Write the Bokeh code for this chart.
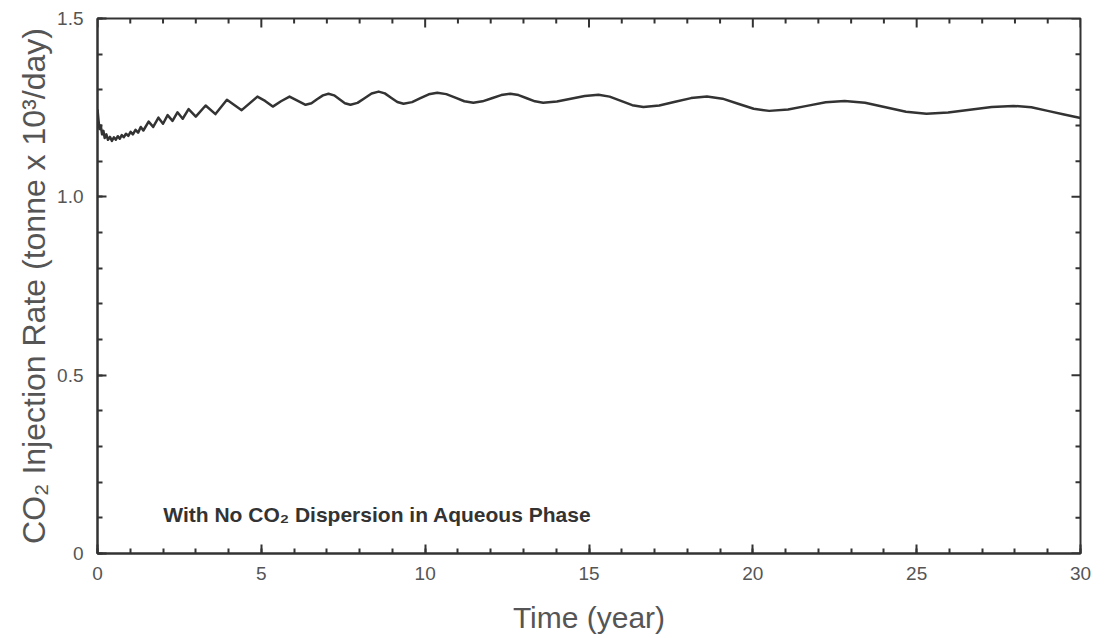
import math
from bokeh.plotting import figure
from bokeh.models import Range1d, LinearAxis, SingleIntervalTicker, CustomJSTickFormatter, Label
from bokeh.embed import file_html
from bokeh.resources import INLINE

# Time (year)
time_year = [0.00, 0.03, 0.06, 0.10, 0.14, 0.18, 0.22, 0.27, 0.32, 0.38, 0.44, 0.50, 0.56, 0.62, 0.68,
             0.74, 0.80, 0.87, 0.94, 1.01, 1.08, 1.16, 1.24, 1.32, 1.40, 1.56, 1.70, 1.86, 2.00, 2.14,
             2.29, 2.44, 2.60, 2.78, 3.00, 3.30, 3.60, 3.95, 4.40, 4.88, 5.115, 5.35, 5.60, 5.86, 6.10,
             6.35, 6.53, 6.70, 6.88, 7.05, 7.22, 7.385, 7.55, 7.72, 7.935, 8.15, 8.365, 8.58, 8.77,
             8.96, 9.15, 9.34, 9.60, 9.855, 10.11, 10.37, 10.645, 10.92, 11.195, 11.47, 11.75, 12.035,
             12.32, 12.60, 12.85, 13.10, 13.35, 13.60, 14.02, 14.445, 14.87, 15.29, 15.63, 15.975,
             16.32, 16.66, 17.145, 17.63, 18.115, 18.60, 19.075, 19.55, 20.025, 20.50, 21.075, 21.65,
             22.225, 22.80, 23.425, 24.05, 24.675, 25.30, 25.96, 26.625, 27.29, 27.95, 28.50, 29.00,
             29.50, 30.00]

# CO2 injection rate (tonne x 10^3/day)
injection_rate = [1.245, 1.215, 1.190, 1.200, 1.175, 1.185, 1.165, 1.175, 1.160, 1.168, 1.157, 1.167,
                  1.160, 1.170, 1.163, 1.173, 1.167, 1.177, 1.171, 1.182, 1.175, 1.188, 1.180, 1.196,
                  1.186, 1.211, 1.196, 1.222, 1.205, 1.229, 1.213, 1.237, 1.219, 1.246, 1.225, 1.256,
                  1.232, 1.272, 1.243, 1.281, 1.269, 1.253, 1.268, 1.281, 1.2695, 1.258, 1.2625, 1.2735,
                  1.2845, 1.289, 1.2845, 1.2735, 1.2625, 1.258, 1.2634, 1.2765, 1.2896, 1.295, 1.290,
                  1.278, 1.266, 1.261, 1.2655, 1.2765, 1.2875, 1.292, 1.288, 1.278, 1.268, 1.264, 1.2677,
                  1.2765, 1.2853, 1.289, 1.2853, 1.2765, 1.2677, 1.264, 1.2672, 1.275, 1.2828, 1.286,
                  1.281, 1.269, 1.257, 1.252, 1.2562, 1.2665, 1.2768, 1.281, 1.2752, 1.261, 1.2468,
                  1.241, 1.2451, 1.255, 1.2649, 1.269, 1.2637, 1.251, 1.2383, 1.233, 1.2362, 1.244,
                  1.2518, 1.255, 1.251, 1.241, 1.231, 1.221]

# tick positions for the unlabelled top and right frame ticks
x_major_ticks = [0, 5, 10, 15, 20, 25, 30]
x_minor_ticks = [v for v in range(0, 31) if v % 5 != 0]
y_major_ticks = [0.0, 0.5, 1.0, 1.5]
y_minor_ticks = [0.1, 0.2, 0.3, 0.4, 0.6, 0.7, 0.8, 0.9, 1.1, 1.2, 1.3, 1.4]

x_label = "Time (year)"
y_label = "CO\u2082 Injection Rate (tonne x 10\u00b3/day)"
note = "With No CO\u2082 Dispersion in Aqueous Phase"

X_MAX = 30
Y_MAX = 1.5

FONT = "Liberation Sans"
INK = "#333333"
TXT = "#555555"

p = figure(width=1110, height=638, output_backend="svg", toolbar_location=None,
           x_range=Range1d(0, X_MAX), y_range=Range1d(0, Y_MAX),
           x_axis_location=None, y_axis_location=None,
           min_border_left=97, min_border_right=30, min_border_top=18, min_border_bottom=85)
p.grid.visible = False
p.background_fill_color = "white"
p.border_fill_color = "white"
p.outline_line_color = INK
p.outline_line_width = 2

yfmt = CustomJSTickFormatter(code="return tick == 0 ? '0' : tick.toFixed(1);")


def style(ax):
    ax.axis_line_color = INK
    ax.axis_line_width = 2
    ax.major_tick_line_color = INK
    ax.minor_tick_line_color = INK
    ax.major_tick_line_width = 2
    ax.minor_tick_line_width = 2
    ax.major_tick_in = 9
    ax.major_tick_out = 0
    ax.minor_tick_in = 5
    ax.minor_tick_out = 0
    ax.major_label_text_font = FONT
    ax.major_label_text_color = TXT
    ax.axis_label_text_font = FONT
    ax.axis_label_text_color = TXT
    ax.axis_label_text_font_style = "normal"


xb = LinearAxis(ticker=SingleIntervalTicker(interval=5, num_minor_ticks=5), axis_label=x_label)
style(xb)
xb.major_label_text_font_size = "19px"
xb.major_label_standoff = 13
xb.axis_label_text_font_size = "30px"
xb.axis_label_standoff = 18
p.add_layout(xb, "below")

yl = LinearAxis(ticker=SingleIntervalTicker(interval=0.5, num_minor_ticks=5), axis_label=y_label,
                formatter=yfmt)
style(yl)
yl.major_label_text_font_size = "19px"
yl.major_label_standoff = 14
yl.axis_label_text_font_size = "32px"
yl.axis_label_standoff = 2
p.add_layout(yl, "left")

# inward ticks on the top and right edges of the frame
down = -math.pi / 2
left = math.pi
p.ray(x=x_major_ticks, y=[Y_MAX] * len(x_major_ticks), length=9, length_units="screen",
      angle=down, line_color=INK, line_width=2)
p.ray(x=x_minor_ticks, y=[Y_MAX] * len(x_minor_ticks), length=5, length_units="screen",
      angle=down, line_color=INK, line_width=2)
p.ray(x=[X_MAX] * len(y_major_ticks), y=y_major_ticks, length=9, length_units="screen",
      angle=left, line_color=INK, line_width=2)
p.ray(x=[X_MAX] * len(y_minor_ticks), y=y_minor_ticks, length=5, length_units="screen",
      angle=left, line_color=INK, line_width=2)

p.line(time_year, injection_rate, line_color=INK, line_width=2.5, line_join="round")

p.add_layout(Label(x=8.54, y=0.11, text=note, text_align="center", text_baseline="middle",
                   text_font=FONT, text_font_style="bold", text_font_size="21px", text_color=INK))

open("out.html", "w").write(file_html(p, INLINE))
